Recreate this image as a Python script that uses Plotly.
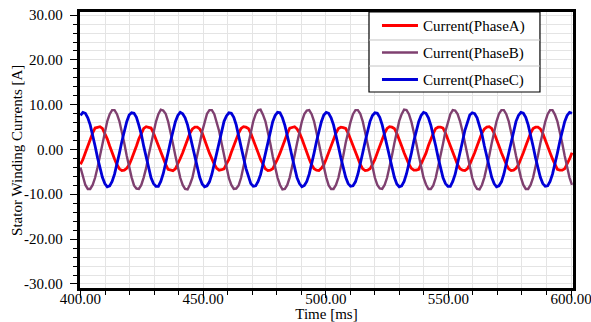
import plotly.graph_objects as go

# ---- data ----
time_step_ms = 0.992
time_ms = [round(400 + time_step_ms * i, 3) for i in range(203)]

current_phase_a = [
    -3.3, -2.2, -0.7, 0.9, 2.3, 3.7, 4.8, 5.0, 5.1, 4.7, 3.6, 2.4, 0.8, -0.8, -2.1, -3.4, -4.3, -4.7, -4.6, -4.2,
    -3.4, -2.1, -0.8, 0.8, 2.4, 3.6, 4.7, 5.1, 4.9, 4.8, 3.7, 2.3, 0.9, -0.7, -2.2, -3.3, -4.4, -4.6, -4.7, -4.3,
    -3.3, -2.0, -0.7, 0.8, 2.3, 3.7, 4.6, 5.0, 5.0, 4.6, 3.7, 2.4, 0.7, -0.8, -2.1, -3.3, -4.2, -4.6, -4.5, -4.3,
    -3.2, -2.2, -0.6, 0.9, 2.4, 3.7, 4.7, 5.1, 5.0, 4.7, 3.6, 2.3, 0.8, -0.7, -2.2, -3.3, -4.3, -4.7, -4.6, -4.3,
    -3.3, -2.1, -0.8, 0.8, 2.3, 3.6, 4.8, 5.0, 5.1, 4.6, 3.7, 2.4, 0.8, -0.7, -2.1, -3.4, -4.3, -4.6, -4.7, -4.2,
    -3.4, -2.1, -0.7, 0.7, 2.4, 3.7, 4.7, 5.0, 4.9, 4.7, 3.7, 2.3, 0.9, -0.8, -2.1, -3.3, -4.3, -4.7, -4.6, -4.3,
    -3.3, -2.2, -0.7, 0.8, 2.3, 3.7, 4.7, 5.1, 5.0, 4.7, 3.6, 2.4, 0.8, -0.7, -2.2, -3.3, -4.2, -4.6, -4.6, -4.4,
    -3.2, -2.1, -0.8, 0.9, 2.4, 3.6, 4.7, 5.0, 5.0, 4.8, 3.7, 2.3, 0.7, -0.8, -2.1, -3.4, -4.3, -4.6, -4.7, -4.3,
    -3.3, -2.1, -0.7, 0.8, 2.3, 3.7, 4.6, 5.0, 5.1, 4.7, 3.7, 2.4, 0.8, -0.7, -2.2, -3.3, -4.3, -4.7, -4.6, -4.2,
    -3.4, -2.2, -0.7, 0.8, 2.4, 3.7, 4.7, 5.0, 5.0, 4.6, 3.6, 2.3, 0.8, -0.7, -2.1, -3.3, -4.4, -4.6, -4.6, -4.3,
    -3.3, -2.1, -0.7,
]

current_phase_b = [
    -4.0, -6.3, -7.9, -8.8, -8.8, -7.9, -6.3, -4.0, -1.4, 1.4, 4.0, 6.3, 7.9, 8.8, 8.8, 7.9, 6.3, 4.0, 1.4, -1.4,
    -4.1, -6.2, -8.0, -8.7, -8.8, -7.9, -6.2, -4.1, -1.3, 1.4, 4.1, 6.2, 7.9, 8.9, 8.7, 8.0, 6.3, 4.0, 1.3, -1.4,
    -4.0, -6.3, -7.9, -8.8, -8.9, -7.8, -6.3, -4.0, -1.4, 1.3, 4.0, 6.3, 8.0, 8.8, 8.8, 7.9, 6.2, 4.1, 1.4, -1.3,
    -4.0, -6.4, -7.9, -8.8, -8.7, -8.0, -6.3, -3.9, -1.4, 1.4, 4.0, 6.3, 7.9, 8.8, 8.9, 7.8, 6.3, 4.0, 1.4, -1.5,
    -4.1, -6.3, -7.9, -8.9, -8.8, -7.9, -6.2, -4.0, -1.3, 1.4, 4.1, 6.3, 7.9, 8.7, 8.8, 7.9, 6.3, 4.0, 1.3, -1.4,
    -4.0, -6.2, -8.0, -8.8, -8.8, -7.9, -6.3, -4.1, -1.4, 1.5, 4.0, 6.2, 7.9, 8.8, 8.8, 8.0, 6.3, 3.9, 1.4, -1.4,
    -4.0, -6.3, -7.9, -8.7, -8.8, -7.9, -6.3, -4.0, -1.4, 1.4, 4.0, 6.4, 7.9, 8.9, 8.8, 7.9, 6.2, 4.0, 1.4, -1.3,
    -4.1, -6.3, -7.8, -8.8, -8.8, -8.0, -6.3, -4.0, -1.3, 1.3, 4.1, 6.3, 7.9, 8.8, 8.7, 7.9, 6.3, 4.1, 1.4, -1.4,
    -4.0, -6.3, -7.9, -8.8, -8.9, -7.9, -6.2, -4.0, -1.4, 1.4, 4.0, 6.3, 8.0, 8.8, 8.8, 7.9, 6.3, 4.0, 1.3, -1.4,
    -4.0, -6.2, -7.9, -8.8, -8.8, -7.9, -6.3, -4.1, -1.4, 1.4, 4.0, 6.2, 7.9, 8.8, 8.8, 7.8, 6.3, 4.0, 1.4, -1.4,
    -4.1, -6.3, -7.9,
]

current_phase_c = [
    7.6, 8.3, 8.1, 7.1, 5.5, 3.3, 0.8, -1.8, -4.2, -6.2, -7.6, -8.3, -8.1, -7.1, -5.5, -3.3, -0.8, 1.8, 4.2, 6.2,
    7.7, 8.2, 8.1, 7.2, 5.4, 3.4, 0.7, -1.9, -4.2, -6.3, -7.6, -8.2, -8.2, -7.1, -5.4, -3.3, -0.7, 1.8, 4.3, 6.2,
    7.6, 8.3, 8.0, 7.1, 5.5, 3.2, 0.8, -1.8, -4.3, -6.2, -7.7, -8.3, -8.1, -7.2, -5.5, -3.2, -0.8, 1.9, 4.2, 6.3,
    7.5, 8.2, 8.1, 7.2, 5.5, 3.3, 0.9, -1.8, -4.2, -6.2, -7.6, -8.2, -8.1, -7.1, -5.6, -3.3, -0.8, 1.8, 4.2, 6.2,
    7.6, 8.3, 8.2, 7.1, 5.4, 3.3, 0.8, -1.7, -4.2, -6.3, -7.6, -8.3, -8.0, -7.1, -5.5, -3.4, -0.8, 1.8, 4.1, 6.2,
    7.7, 8.3, 8.1, 7.1, 5.5, 3.3, 0.7, -1.8, -4.3, -6.2, -7.6, -8.2, -8.1, -7.2, -5.5, -3.3, -0.7, 1.8, 4.2, 6.3,
    7.6, 8.2, 8.1, 7.2, 5.5, 3.2, 0.8, -1.9, -4.2, -6.2, -7.7, -8.3, -8.1, -7.1, -5.4, -3.3, -0.8, 1.9, 4.2, 6.2,
    7.6, 8.3, 8.1, 7.1, 5.4, 3.3, 0.8, -1.8, -4.2, -6.3, -7.6, -8.2, -8.2, -7.1, -5.5, -3.3, -0.9, 1.8, 4.3, 6.2,
    7.7, 8.2, 8.0, 7.1, 5.5, 3.4, 0.8, -1.8, -4.1, -6.2, -7.6, -8.3, -8.1, -7.2, -5.5, -3.2, -0.8, 1.7, 4.2, 6.3,
    7.6, 8.3, 8.1, 7.2, 5.5, 3.3, 0.8, -1.8, -4.2, -6.2, -7.6, -8.2, -8.1, -7.1, -5.5, -3.3, -0.8, 1.8, 4.2, 6.2,
    7.6, 8.3, 8.1,
]

series_names = ["Current(PhaseA)", "Current(PhaseB)", "Current(PhaseC)"]
series_values = [current_phase_a, current_phase_b, current_phase_c]
series_colors = ["#ff0000", "#7f4070", "#0000d8"]
series_widths = [2.8, 2.4, 2.8]

x_tick_vals = [400, 450, 500, 550, 600]
x_tick_text = ["400.00", "450.00", "500.00", "550.00", "600.00"]
y_tick_vals = [-30, -20, -10, 0, 10, 20, 30]
y_tick_text = ["-30.00", "-20.00", "-10.00", "0.00", "10.00", "20.00", "30.00"]
x_title = "Time [ms]"
y_title = "Stator Winding Currents [A]"

fig = go.Figure()
for name, vals, col, w in zip(series_names, series_values, series_colors, series_widths):
    fig.add_trace(go.Scatter(x=time_ms, y=vals, mode="lines", name=name,
                             legendgroup=name,
                             line=dict(color=col, width=w)))

grid_col = "#e4e4e4"
serif = "Liberation Serif"
axis_common = dict(
    automargin=False,
    showline=True, linewidth=2.5, linecolor="black", mirror=True,
    ticks="outside", ticklen=7, tickwidth=1, tickcolor="black",
    showgrid=True, gridcolor=grid_col, gridwidth=1, zeroline=False,
    ticklabeloverflow="allow",
    tickfont=dict(family=serif, size=15, color="black"),
)

fig.update_xaxes(range=[399.8, 600.8], tickvals=x_tick_vals, ticktext=x_tick_text,
                 ticklabelstandoff=-12,
                 minor=dict(dtick=10, tick0=400, ticks="outside", ticklen=4, tickcolor="black",
                            showgrid=True, gridcolor=grid_col, gridwidth=1),
                 title=dict(text=x_title, standoff=0,
                            font=dict(family=serif, size=15, color="black")),
                 **axis_common)
fig.update_yaxes(range=[-30.9, 30.7], tickvals=y_tick_vals, showticklabels=False,
                 minor=dict(dtick=2, tick0=0, ticks="outside", ticklen=4, tickcolor="black",
                            showgrid=True, gridcolor=grid_col, gridwidth=1),
                 **axis_common)

# y tick labels placed at their data values, a little away from the axis
for v, t in zip(y_tick_vals, y_tick_text):
    fig.add_annotation(text=t, xref="paper", yref="y", x=-0.031, y=v,
                       xanchor="right", yanchor="middle", showarrow=False,
                       font=dict(family=serif, size=15, color="black"))

# y-axis title as a rotated text
fig.add_annotation(text=y_title, textangle=-90, xref="paper", yref="paper",
                   x=-0.128, y=0.5, xanchor="center", yanchor="middle", showarrow=False,
                   font=dict(family=serif, size=15, color="black"))

# legend box with row separators
lx0, lx1, ly0, ly1 = 0.5862, 0.933, 0.7101, 1.0
fig.add_shape(type="rect", xref="paper", yref="paper", x0=lx0, x1=lx1, y0=ly0, y1=ly1,
              line=dict(color="black", width=1.2), fillcolor="white", layer="above")
for ys in [0.8986, 0.8043]:
    fig.add_shape(type="line", xref="paper", yref="paper", x0=lx0, x1=lx1, y0=ys, y1=ys,
                  line=dict(color="#c4c4c4", width=1), layer="above")

fig.update_layout(
    width=591, height=322,
    margin=dict(l=80, r=18, t=12, b=34, autoexpand=False),
    paper_bgcolor="white", plot_bgcolor="white",
    font=dict(family=serif, size=15, color="black"),
    showlegend=True,
    legend=dict(x=0.6024, y=1.01, xanchor="left", yanchor="top",
                bgcolor="rgba(0,0,0,0)", borderwidth=0, tracegroupgap=4.5,
                itemwidth=36,
                font=dict(family=serif, size=15, color="black")),
)

fig.write_html("out.html", config={"displayModeBar": False},
               post_script="document.body.style.margin='0';")
